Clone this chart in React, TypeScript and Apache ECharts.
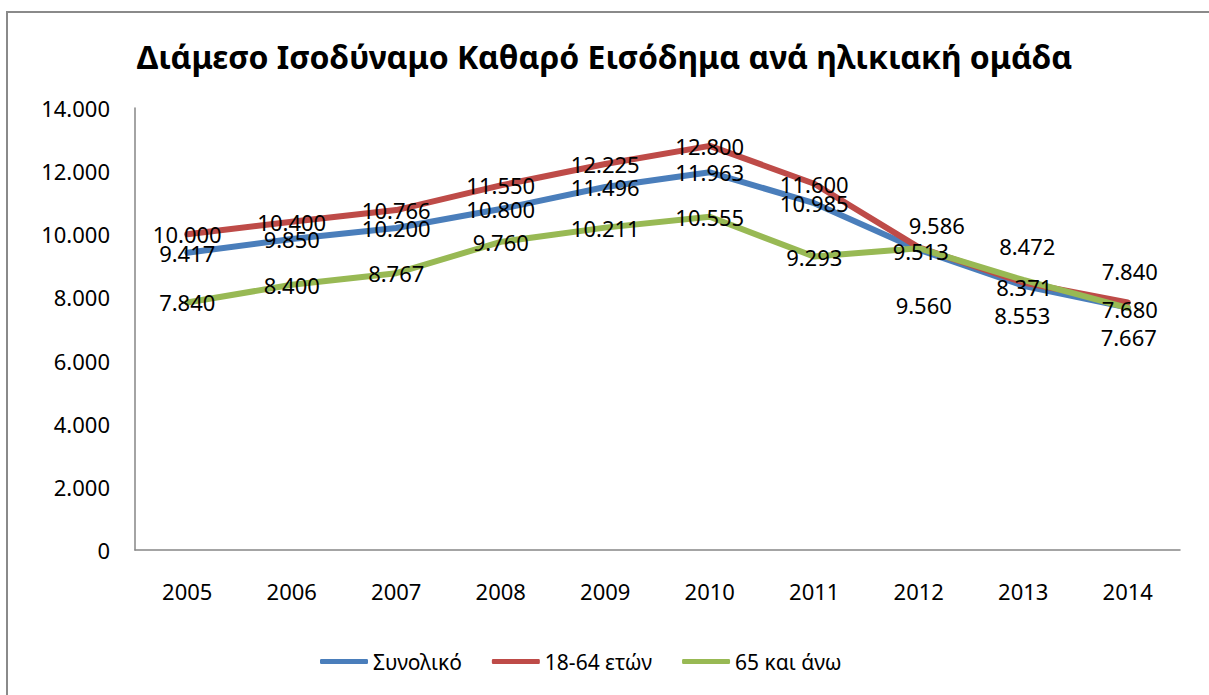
import React, { useEffect, useRef } from "react";
import * as echarts from "echarts";

const years = ["2005", "2006", "2007", "2008", "2009", "2010", "2011", "2012", "2013", "2014"];
const seriesNames = ["Συνολικό", "18-64 ετών", "65 και άνω"];
const total = [9417, 9850, 10200, 10800, 11496, 11963, 10985, 9513, 8371, 7680];
const age18to64 = [10000, 10400, 10766, 11550, 12225, 12800, 11600, 9586, 8472, 7840];
const age65plus = [7840, 8400, 8767, 9760, 10211, 10555, 9293, 9560, 8553, 7667];
const yMin = 0;
const yMax = 14000;
const yStep = 2000;

const titleText = "Διάμεσο Ισοδύναμο Καθαρό Εισόδημα ανά ηλικιακή ομάδα";

// manual label placement (pixel shifts) for the crowded last points
const labelOffsets: Record<number, Record<number, [number, number]>> = {
  0: { 7: [2, 1], 8: [1, 1], 9: [2, 1] },
  1: { 7: [18, -22], 8: [4, -37], 9: [2, -31] },
  2: { 7: [5, 57], 8: [-1, 35], 9: [1, 29] },
};

const colors = ["#4a7ebb", "#be4b48", "#98b954"];
const FONT = "'Noto Sans', 'Open Sans', sans-serif";

const fmt = (n: number) => String(n).replace(/\B(?=(\d{3})+(?!\d))/g, ".");

export default function App() {
  const ref = useRef<HTMLDivElement>(null);
  useEffect(() => {
    if (!ref.current) return;
    const chart = echarts.init(ref.current, undefined, { renderer: "svg" });
    const allData = [total, age18to64, age65plus];
    const lineSeries = allData.map((arr, si) => ({
      name: seriesNames[si],
      type: "line",
      symbol: "none",
      lineStyle: { width: 6, color: colors[si], cap: "round", join: "round" },
      itemStyle: { color: colors[si] },
      data: arr,
      z: 2 + si,
    }));
    // label layers drawn above all lines
    const labelSeries = allData.map((arr, si) => ({
      name: "labels-" + si,
      type: "line",
      symbol: "circle",
      symbolSize: 1,
      showSymbol: true,
      silent: true,
      lineStyle: { width: 0, opacity: 0 },
      itemStyle: { color: "rgba(0,0,0,0)" },
      label: {
        show: true,
        position: "inside",
        offset: [0, 2],
        color: "#000",
        fontFamily: FONT,
        fontSize: 22,
        formatter: (p: any) => fmt(p.value),
      },
      labelLayout: (params: any) => {
        const off = labelOffsets[si][params.dataIndex];
        return off ? { dx: off[0], dy: off[1], hideOverlap: false } : { hideOverlap: false };
      },
      data: arr,
      z: 10,
    }));
    chart.setOption({
      animation: false,
      backgroundColor: "#fff",
      title: {
        text: titleText,
        left: "center",
        top: 35,
        textStyle: { fontFamily: FONT, fontWeight: "bold", fontSize: 32, color: "#000" },
      },
      legend: {
        left: 320,
        top: 651,
        padding: 0,
        itemWidth: 48,
        itemHeight: 5,
        itemGap: 30,
        icon: "roundRect",
        textStyle: { fontFamily: FONT, fontSize: 21, color: "#000" },
        data: seriesNames,
      },
      grid: { left: 135, right: 29, top: 108, bottom: 145, containLabel: false },
      xAxis: {
        type: "category",
        data: years,
        boundaryGap: true,
        axisLine: { lineStyle: { color: "#868686", width: 1.5 } },
        axisTick: { show: false },
        axisLabel: { color: "#000", fontFamily: FONT, fontSize: 22, margin: 30 },
      },
      yAxis: {
        type: "value",
        min: yMin,
        max: yMax,
        interval: yStep,
        axisLine: { show: true, lineStyle: { color: "#868686", width: 1.5 } },
        axisTick: { show: false },
        splitLine: { show: false },
        axisLabel: {
          color: "#000",
          fontFamily: FONT,
          fontSize: 22,
          margin: 25,
          formatter: (v: number) => fmt(v),
        },
      },
      graphic: [
        {
          type: "rect",
          shape: { x: 7, y: 12, width: 1260, height: 760 },
          style: { fill: "none", stroke: "#8a8a8a", lineWidth: 2 },
          silent: true,
        },
      ],
      series: [...lineSeries, ...labelSeries],
    });
    return () => chart.dispose();
  }, []);
  return (
    <div
      ref={ref}
      style={{ position: "fixed", left: 0, top: 0, width: 1209, height: 695, background: "#fff" }}
    />
  );
}
